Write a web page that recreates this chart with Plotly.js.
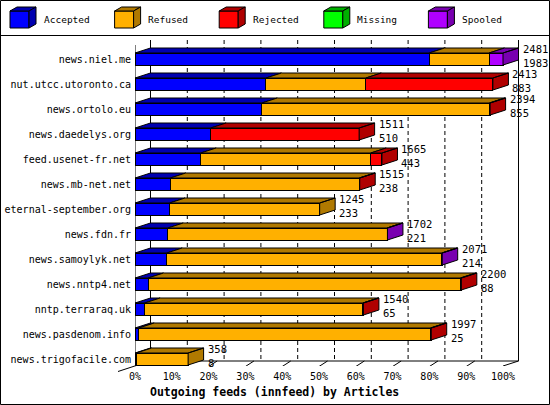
<!DOCTYPE html>
<html>
<head>
<meta charset="utf-8">
<script src="https://cdn.plot.ly/plotly-3.0.1.min.js"></script>
<style>html,body{margin:0;padding:0;background:#fff;}#chart{width:550px;height:405px;}</style>
</head>
<body>
<div id="chart"></div>
<script>
// ---- data ----
const hosts = ["news.niel.me","nut.utcc.utoronto.ca","news.ortolo.eu","news.daedelys.org","feed.usenet-fr.net","news.mb-net.net","eternal-september.org","news.fdn.fr","news.samoylyk.net","news.nntp4.net","nntp.terraraq.uk","news.pasdenom.info","news.trigofacile.com"];
const offered  = [2481,2413,2394,1511,1665,1515,1245,1702,2071,2200,1540,1997,358];
const accepted = [1983, 883, 855, 510, 443, 238, 233, 221, 214,  88,  65,  25,   8];
const refused  = [ 404, 673,1534,   0,1146,1274,1012,1478,1854,2106,1471,1967, 350];
const rejected = [   0, 857,   5,1001,  76,   3,   0,   0,   0,   6,   4,   5,   0];
const missing  = [   0,   0,   0,   0,   0,   0,   0,   0,   0,   0,   0,   0,   0];
const spooled  = [  94,   0,   0,   0,   0,   0,   0,   3,   3,   0,   0,   0,   0];
const seriesNames = ["Accepted","Refused","Rejected","Missing","Spooled"];
const tickPct = [0,10,20,30,40,50,60,70,80,90,100];
const tickLabels = ["0%","10%","20%","30%","40%","50%","60%","70%","80%","90%","100%"];
const xTitle = "Outgoing feeds (innfeed) by Articles";

// ---- styles ----
const frontCol = ["#0000ff","#ffb000","#ff0000","#00ff00","#b000ff"];
const darkCol  = ["#0000b0","#b07900","#b00000","#00b000","#7900b0"];
const FONT = "DejaVu Sans Mono, Liberation Mono, monospace";

// ---- geometry ----
const Wd = 550, Ht = 405, ml = 135, mr = 28, mt = 40, mb = 39;
const W = Wd - ml - mr, H = Ht - mt - mb;
const pxPerPct = 3.68;
const xmax = W / pxPerPct;
const rowPx = 25, row0Px = 59;
const yTop = (mt - row0Px) / rowPx, yBot = (Ht - mb - row0Px) / rowPx;
const DX = 15.5 / pxPerPct, DY = 5 / rowPx, BW = 12 / rowPx;
const yFloorBack = yBot - DY;
const px2x = px => (px - ml) / W;
const py2y = py => 1 - (py - mt) / H;

const maxTotal = Math.max(...offered);
const series = [accepted, refused, rejected, missing, spooled];
const pct = arr => arr.map(v => v / maxTotal * 100);
const rows = hosts.map((h, i) => i);

const traces = [];
// front faces
series.forEach((s, k) => {
  traces.push({
    type: "bar", orientation: "h", name: seriesNames[k],
    y: rows, x: pct(s).map(v => v > 0 ? v : null), width: BW,
    marker: {color: frontCol[k], line: {color: "#000", width: 1}},
    hoverinfo: "skip", showlegend: false
  });
});
// top and side faces
const polyX = series.map(() => []), polyY = series.map(() => []);
hosts.forEach((h, i) => {
  let cum = 0, last = -1, lastEnd = 0;
  const yt = i - BW / 2, yb = i + BW / 2;
  series.forEach((s, k) => {
    const v = s[i] / maxTotal * 100;
    if (v > 0) {
      const x0 = cum, x1 = cum + v;
      polyX[k].push(x0, x1, x1 + DX, x0 + DX, x0, null);
      polyY[k].push(yt, yt, yt - DY, yt - DY, yt, null);
      cum = x1; last = k; lastEnd = x1;
    }
  });
  if (last >= 0) {
    polyX[last].push(lastEnd, lastEnd + DX, lastEnd + DX, lastEnd, lastEnd, null);
    polyY[last].push(yt, yt - DY, yb - DY, yb, yt, null);
  }
});
series.forEach((s, k) => {
  if (polyX[k].length) traces.push({
    type: "scatter", mode: "lines", x: polyX[k], y: polyY[k],
    fill: "toself", fillcolor: darkCol[k], line: {color: "#000", width: 1},
    hoverinfo: "skip", showlegend: false
  });
});

// ---- decorations ----
const shapes = [];
const L = (x0, y0, x1, y1, xref, yref, extra) => Object.assign({type: "line", x0, y0, x1, y1, xref, yref, line: {color: "#000", width: 1}, layer: "below"}, extra || {});
// grid on back wall
tickPct.forEach((t, j) => {
  if (j === 0 || j === tickPct.length - 1) return;
  shapes.push(L(t + DX, yTop, t + DX, yFloorBack, "x", "y", {line: {color: "#000", width: 1, dash: "4px,3px"}}));
});
shapes.push(L(DX, yTop, DX, yFloorBack, "x", "y"));
shapes.push(L(100 + DX, yTop, 100 + DX, yFloorBack, "x", "y"));
shapes.push(L(DX, yFloorBack, 100 + DX, yFloorBack, "x", "y"));
shapes.push(L(100, yBot, 100 + DX, yFloorBack, "x", "y"));
shapes.push(L(0, yTop + DY, 0, yBot, "x", "y", {layer: "above"}));
// floor ticks
tickPct.forEach(t => {
  if (t === 0 || t === 100) return;
  shapes.push(L(t, yBot + 0.02, t + DX * 0.55, yFloorBack, "x", "y"));
});
// floor left edge (outside plot)
shapes.push(L(px2x(150), py2y(361), px2x(118), py2y(371.5), "paper", "paper"));
// frame + legend separator
shapes.push({type: "rect", xref: "paper", yref: "paper", x0: px2x(0.5), x1: px2x(549.5), y0: py2y(0.5), y1: py2y(404.5), line: {color: "#000", width: 1}, layer: "above"});
shapes.push(L(px2x(0), py2y(35.5), px2x(550), py2y(35.5), "paper", "paper", {layer: "above"}));

// legend cubes
const annotations = [];
const path = pts => "M" + pts.map(p => px2x(p[0]) + "," + py2y(p[1])).join(" L") + " Z";
seriesNames.forEach((n, k) => {
  const x0 = 10 + 104.6 * k, y0 = 11, w = 19, h = 17, dx = 7, dy = 4;
  shapes.push({type: "path", xref: "paper", yref: "paper", path: path([[x0, y0], [x0 + w, y0], [x0 + w, y0 + h], [x0, y0 + h]]), fillcolor: frontCol[k], line: {color: "#000", width: 1}, layer: "above"});
  shapes.push({type: "path", xref: "paper", yref: "paper", path: path([[x0, y0], [x0 + dx, y0 - dy], [x0 + w + dx, y0 - dy], [x0 + w, y0]]), fillcolor: darkCol[k], line: {color: "#000", width: 1}, layer: "above"});
  shapes.push({type: "path", xref: "paper", yref: "paper", path: path([[x0 + w, y0], [x0 + w + dx, y0 - dy], [x0 + w + dx, y0 + h - dy], [x0 + w, y0 + h]]), fillcolor: darkCol[k], line: {color: "#000", width: 1}, layer: "above"});
  annotations.push({xref: "paper", yref: "paper", x: px2x(x0 + 31.5), y: py2y(20), xanchor: "left", yanchor: "middle", text: n, showarrow: false, font: {family: FONT, size: 9.5, color: "#000"}});
});

// value labels (offered over accepted)
hosts.forEach((h, i) => {
  const xe = offered[i] / maxTotal * 100 + DX;
  annotations.push({x: xe, y: i, xref: "x", yref: "y", xanchor: "left", yanchor: "middle", xshift: 3, yshift: 3.5, align: "left",
    text: offered[i] + "<br>" + accepted[i], showarrow: false, borderpad: 0, font: {family: FONT, size: 10.5, color: "#000"}});
});
// x title
annotations.push({xref: "paper", yref: "paper", x: px2x(274), y: py2y(392), xanchor: "center", yanchor: "middle", text: "<b>" + xTitle + "</b>", showarrow: false, font: {family: FONT, size: 11.5, color: "#000"}});

const layout = {
  width: Wd, height: Ht,
  margin: {l: ml, r: mr, t: mt, b: mb, pad: 0},
  paper_bgcolor: "#fff", plot_bgcolor: "#fff",
  barmode: "stack", bargap: 0, showlegend: false, hovermode: false,
  xaxis: {range: [0, xmax], tickvals: tickPct, ticktext: tickLabels, showgrid: false, zeroline: false, showline: false, ticks: "", ticklabelstandoff: 3, tickfont: {family: FONT, size: 10, color: "#000"}, fixedrange: true},
  yaxis: {range: [yBot, yTop], tickvals: rows, ticktext: hosts, showgrid: false, zeroline: false, showline: false, ticks: "", ticklabelstandoff: 3, tickfont: {family: FONT, size: 10, color: "#000"}, fixedrange: true},
  shapes: shapes, annotations: annotations
};
Plotly.newPlot("chart", traces, layout, {displayModeBar: false, staticPlot: true});
</script>
</body>
</html>
